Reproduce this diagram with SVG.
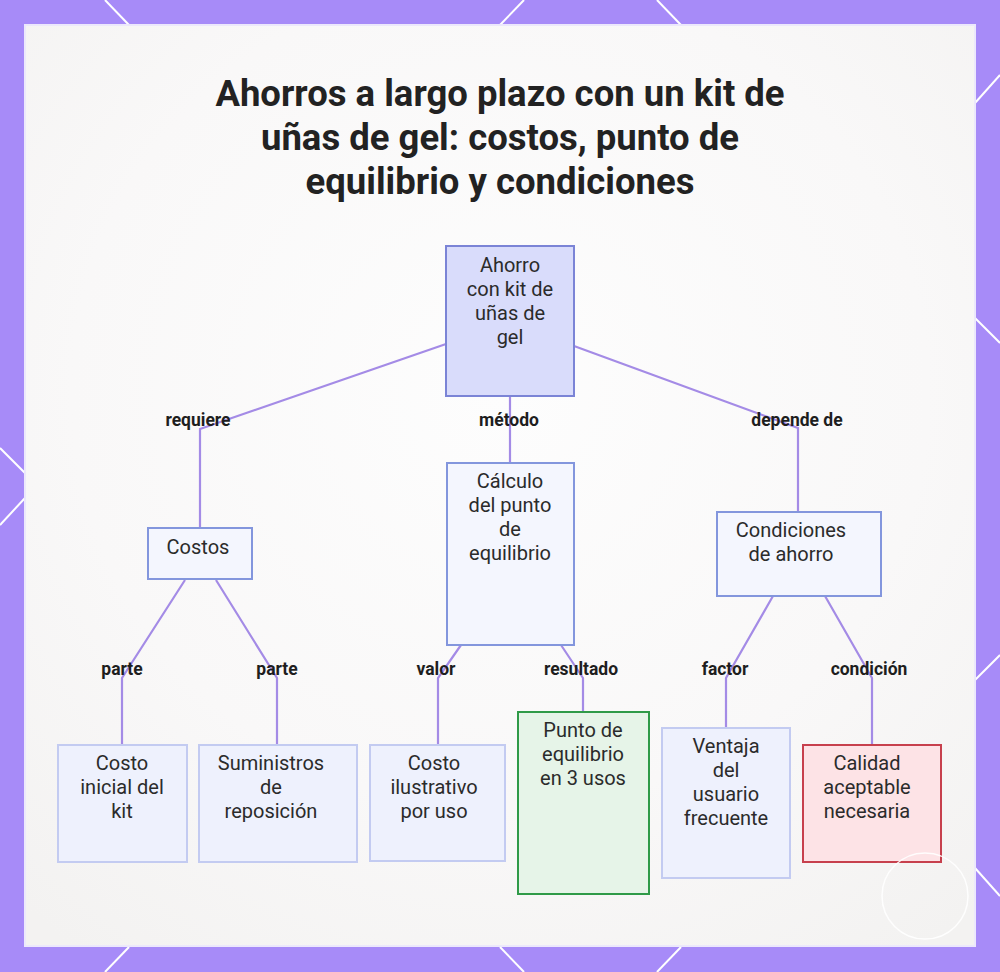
<svg xmlns="http://www.w3.org/2000/svg" width="1000" height="972" viewBox="0 0 1000 972">
<defs>
<style>
.title{font-family:Roboto,"Liberation Sans",sans-serif;font-weight:700;font-size:36.5px;fill:#222;text-anchor:middle}
.nt{font-family:Roboto,"Liberation Sans",sans-serif;font-size:20px;fill:#2b2b2b;text-anchor:middle}
.lbl{font-family:Roboto,"Liberation Sans",sans-serif;font-weight:700;font-size:17.5px;fill:#1e1e1e;text-anchor:middle}
.edge{fill:none;stroke:#a48be6;stroke-width:2.2}
.root{fill:#d9dcfb;stroke:#7b84d6;stroke-width:2}
.mid{fill:#f4f6fe;stroke:#8396dd;stroke-width:2}
.leaf{fill:#eef1fd;stroke:#c3cbf1;stroke-width:2}
.ok{fill:#e6f4e8;stroke:#2f9a48;stroke-width:2}
.bad{fill:#fde3e6;stroke:#c7404d;stroke-width:2}
.bl{stroke:#ffffff;stroke-width:2;fill:none}
</style>
<radialGradient id="bg" cx="0.5" cy="0.4" r="0.75">
<stop offset="0" stop-color="#fdfdfd"/>
<stop offset="0.6" stop-color="#f9f8f8"/>
<stop offset="1" stop-color="#f3f2f1"/>
</radialGradient>
</defs>
<rect x="0" y="0" width="1000" height="972" fill="#a78bf8"/>
<g id="border-lines">
<line class="bl" x1="105" y1="0" x2="129" y2="25"/>
<line class="bl" x1="524" y1="0" x2="500" y2="25"/>
<line class="bl" x1="657" y1="0" x2="681" y2="25"/>
<line class="bl" x1="1000" y1="75" x2="975" y2="103"/>
<line class="bl" x1="975" y1="318" x2="1000" y2="343"/>
<line class="bl" x1="975" y1="680" x2="1000" y2="655"/>
<line class="bl" x1="975" y1="868" x2="1000" y2="896"/>
<line class="bl" x1="105" y1="972" x2="129" y2="947"/>
<line class="bl" x1="524" y1="972" x2="500" y2="947"/>
<line class="bl" x1="657" y1="972" x2="681" y2="947"/>
<line class="bl" x1="0" y1="448" x2="25" y2="473"/>
<line class="bl" x1="25" y1="498" x2="0" y2="525"/>
</g>
<rect x="25" y="25" width="950" height="921" fill="url(#bg)" stroke="#ece8fc" stroke-width="2"/>
<g id="title">
<text class="title" x="500" y="106">Ahorros a largo plazo con un kit de</text>
<text class="title" x="500" y="150">uñas de gel: costos, punto de</text>
<text class="title" x="500" y="194">equilibrio y condiciones</text>
</g>
<g id="connectors">
<polyline class="edge" points="446,344 200,429 200,528"/>
<polyline class="edge" points="510,396 510,463"/>
<polyline class="edge" points="574,346 798,428 798,512"/>
<polyline class="edge" points="185,580 122,678 122,745"/>
<polyline class="edge" points="216,580 277,678 277,745"/>
<polyline class="edge" points="461,645 438,678 438,745"/>
<polyline class="edge" points="561,645 583,678 583,712"/>
<polyline class="edge" points="773,596 726,678 726,728"/>
<polyline class="edge" points="825,596 872,678 872,745"/>
<text class="lbl" x="198" y="426">requiere</text>
<text class="lbl" x="509" y="426">método</text>
<text class="lbl" x="797" y="426">depende de</text>
<text class="lbl" x="122" y="675">parte</text>
<text class="lbl" x="277" y="675">parte</text>
<text class="lbl" x="436" y="675">valor</text>
<text class="lbl" x="581" y="675">resultado</text>
<text class="lbl" x="725" y="675">factor</text>
<text class="lbl" x="869" y="675">condición</text>
</g>
<g id="n-root">
<rect class="root" x="446" y="246" width="128" height="150"/>
<text class="nt" x="510" y="272">Ahorro</text>
<text class="nt" x="510" y="296">con kit de</text>
<text class="nt" x="510" y="320">uñas de</text>
<text class="nt" x="510" y="344">gel</text>
</g>
<g id="n-costos">
<rect class="mid" x="148" y="528" width="104" height="51"/>
<text class="nt" x="198" y="554">Costos</text>
</g>
<g id="n-calculo">
<rect class="mid" x="447" y="463" width="127" height="182"/>
<text class="nt" x="510" y="488">Cálculo</text>
<text class="nt" x="510" y="512">del punto</text>
<text class="nt" x="510" y="536">de</text>
<text class="nt" x="510" y="560">equilibrio</text>
</g>
<g id="n-condiciones">
<rect class="mid" x="717" y="512" width="164" height="84"/>
<text class="nt" x="791" y="537">Condiciones</text>
<text class="nt" x="791" y="561">de ahorro</text>
</g>
<g id="n-costo-inicial">
<rect class="leaf" x="58" y="745" width="129" height="117"/>
<text class="nt" x="122" y="770">Costo</text>
<text class="nt" x="122" y="794">inicial del</text>
<text class="nt" x="122" y="818">kit</text>
</g>
<g id="n-suministros">
<rect class="leaf" x="199" y="745" width="158" height="117"/>
<text class="nt" x="271" y="770">Suministros</text>
<text class="nt" x="271" y="794">de</text>
<text class="nt" x="271" y="818">reposición</text>
</g>
<g id="n-costo-uso">
<rect class="leaf" x="370" y="745" width="135" height="116"/>
<text class="nt" x="434" y="770">Costo</text>
<text class="nt" x="434" y="794">ilustrativo</text>
<text class="nt" x="434" y="818">por uso</text>
</g>
<g id="n-punto">
<rect class="ok" x="518" y="712" width="131" height="182"/>
<text class="nt" x="583" y="737">Punto de</text>
<text class="nt" x="583" y="761">equilibrio</text>
<text class="nt" x="583" y="785">en 3 usos</text>
</g>
<g id="n-ventaja">
<rect class="leaf" x="662" y="728" width="128" height="150"/>
<text class="nt" x="726" y="753">Ventaja</text>
<text class="nt" x="726" y="777">del</text>
<text class="nt" x="726" y="801">usuario</text>
<text class="nt" x="726" y="825">frecuente</text>
</g>
<g id="n-calidad">
<rect class="bad" x="803" y="745" width="138" height="117"/>
<text class="nt" x="867" y="770">Calidad</text>
<text class="nt" x="867" y="794">aceptable</text>
<text class="nt" x="867" y="818">necesaria</text>
</g>
<circle cx="925" cy="896" r="43" fill="none" stroke="#ffffff" stroke-width="1.5" opacity="0.9"/>
</svg>
